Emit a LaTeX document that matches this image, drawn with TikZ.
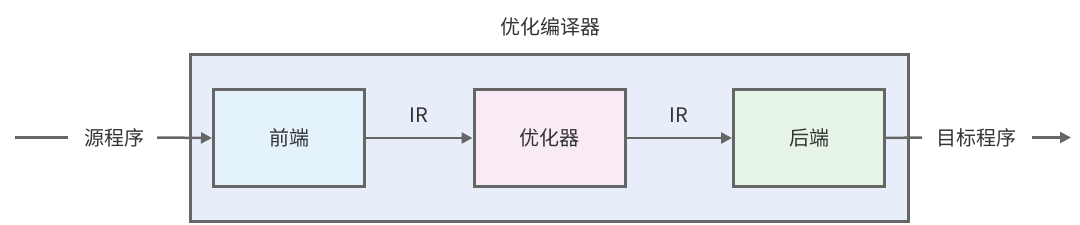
\documentclass[tikz,border=0pt]{standalone}
\usepackage{fontspec}
\setmainfont{Noto Sans CJK SC}
\usetikzlibrary{arrows.meta}
\definecolor{ln}{HTML}{666666}
\definecolor{tx}{HTML}{333333}
\definecolor{outerfill}{HTML}{E8EDFA}
\definecolor{frontfill}{HTML}{E4F3FB}
\definecolor{optfill}{HTML}{F8EBF5}
\definecolor{backfill}{HTML}{E7F5E6}
\tikzset{
  box/.style={draw=ln, line width=3pt, minimum width=151pt, minimum height=97pt, inner sep=0pt, font=\fontsize{20}{24}\selectfont, text=tx},
  lbl/.style={font=\fontsize{20}{24}\selectfont, text=tx, inner sep=0pt},
  conn/.style={draw=ln, line width=2.5pt},
  arr/.style={conn, -{Triangle[length=11pt,width=11pt]}}
}
\begin{document}
\begin{tikzpicture}[x=1pt,y=-1pt]
\useasboundingbox (0,0) rectangle (1080,225);
\node[draw=ln, line width=3pt, fill=outerfill, minimum width=718pt, minimum height=167pt, inner sep=0pt] (outer) at (549.5,137.5) {};
\node[lbl] (title) at (550,27) {优化编译器};
\node[box, fill=frontfill] (front) at (289,138) {前端};
\node[box, fill=optfill] (opt) at (549.5,138) {优化器};
\node[box, fill=backfill] (back) at (809,138) {后端};
\node[lbl] (src) at (114,137.5) {源程序};
\node[lbl] (dst) at (976,137.5) {目标程序};
\coordinate (s0) at (15,137.5);
\coordinate (s1) at (68,137.5);
\coordinate (s2) at (157,137.5);
\coordinate (d1) at (922,137.5);
\coordinate (d2) at (1032,137.5);
\coordinate (d3) at (1071,137.5);
\draw[conn] (s0) -- (s1);
\draw[arr] (s2) -- (front.west);
\draw[arr] (front.east) -- node[lbl, above=14pt] (ir1) {IR} (opt.west);
\draw[arr] (opt.east) -- node[lbl, above=14pt] (ir2) {IR} (back.west);
\draw[conn] (back.east) -- (d1);
\draw[arr] (d2) -- (d3);
\end{tikzpicture}
\end{document}
